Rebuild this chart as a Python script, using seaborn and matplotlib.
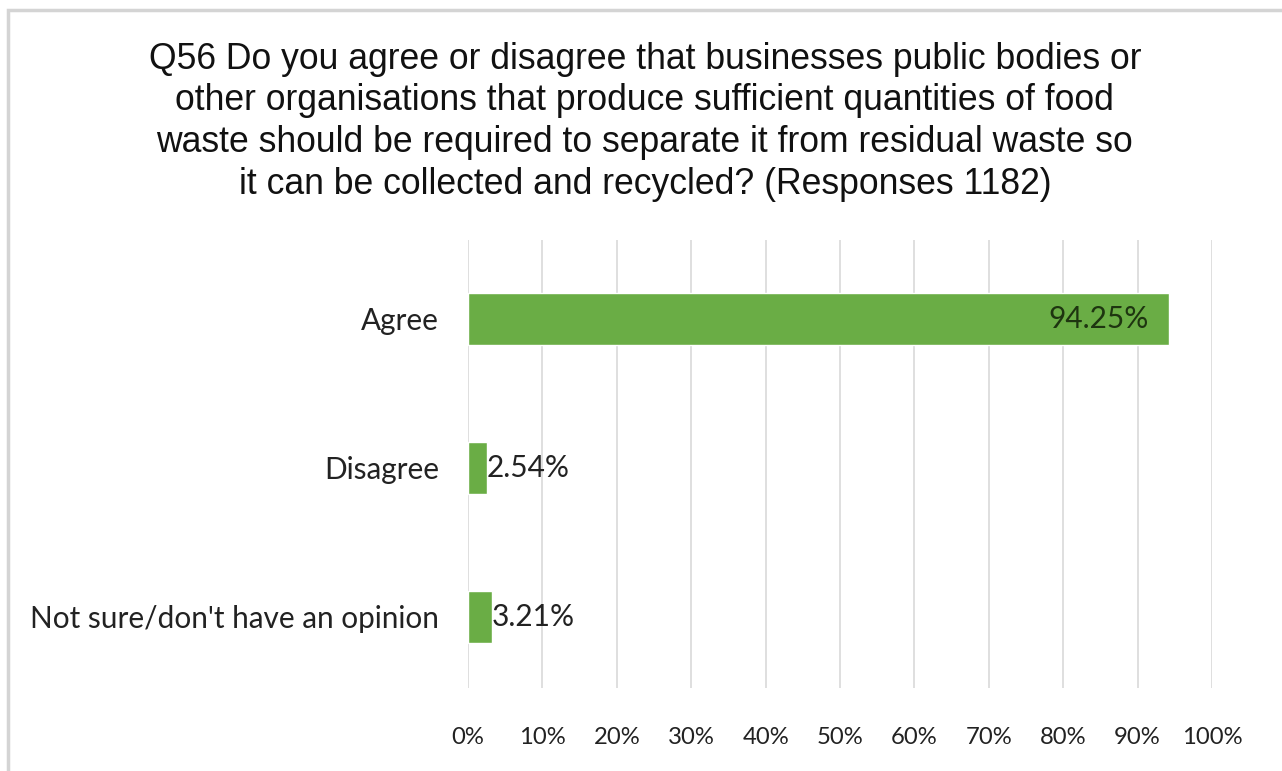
import matplotlib
matplotlib.use("Agg")
import matplotlib.pyplot as plt
import seaborn as sns
import pandas as pd
from matplotlib.patches import Rectangle
from matplotlib.ticker import FuncFormatter

categories = ["Agree", "Disagree", "Not sure/don't have an opinion"]
percentages = [94.25, 2.54, 3.21]
x_ticks = [0, 10, 20, 30, 40, 50, 60, 70, 80, 90, 100]

title = ("Q56 Do you agree or disagree that businesses public bodies or\n"
         "other organisations that produce sufficient quantities of food\n"
         "waste should be required to separate it from residual waste so\n"
         "it can be collected and recycled? (Responses 1182)")

sns.set_style("white")
plt.rcParams["font.family"] = ["Lato", "DejaVu Sans"]

df = pd.DataFrame({"category": categories, "pct": percentages})

fig = plt.figure(figsize=(12.82, 7.71), dpi=100)
fig.patch.set_facecolor("white")

# light frame around the chart area
fig.patches.append(Rectangle((8 / 1282, -0.05), 1.1, 1 - 10 / 771 + 0.05,
                             transform=fig.transFigure, fill=False,
                             edgecolor="#d4d4d4", linewidth=2.5, zorder=0))

ax = fig.add_axes([468 / 1282, 1 - 688 / 771, (1212 - 468) / 1282, (688 - 240) / 771])

bar_color = "#6aad45"
sns.barplot(data=df, x="pct", y="category", orient="h", color=bar_color,
            width=0.35, saturation=1, ax=ax, zorder=2)

ax.set_xlim(0, 100)
ax.set_ylim(2.48, -0.53)
ax.set_xticks(x_ticks)
ax.xaxis.set_major_formatter(FuncFormatter(lambda v, _: f"{v:.0f}%"))
ax.grid(axis="x", color="#d9d9d9", linewidth=1.2, zorder=0)
ax.set_axisbelow(True)
for s in ax.spines.values():
    s.set_visible(False)
ax.tick_params(axis="x", length=0, pad=28, labelsize=17.2, labelcolor="#222222")
ax.tick_params(axis="y", length=0, pad=21, labelsize=21.4, labelcolor="#222222")
ax.set_xlabel("")
ax.set_ylabel("")

# value labels: inside the end for long bars, just outside for short ones
bars = ax.containers[0]
for rect, val in zip(bars, percentages):
    y = rect.get_y() + rect.get_height() / 2
    if val > 50:
        ax.text(val - 2.8, y, f"{val:.2f}%", ha="right", va="center",
                fontsize=21.5, color="#1e3510", zorder=3)
    else:
        ax.text(val, y, f"{val:.2f}%", ha="left", va="center",
                fontsize=21.5, color="#222222", zorder=3)

fig.text(0.503, 0.842, title, ha="center", va="center",
         fontsize=25.6, family=["Liberation Sans", "DejaVu Sans"],
         color="#111111", linespacing=1.25)

fig.savefig("out.png", dpi=100, facecolor="white")
